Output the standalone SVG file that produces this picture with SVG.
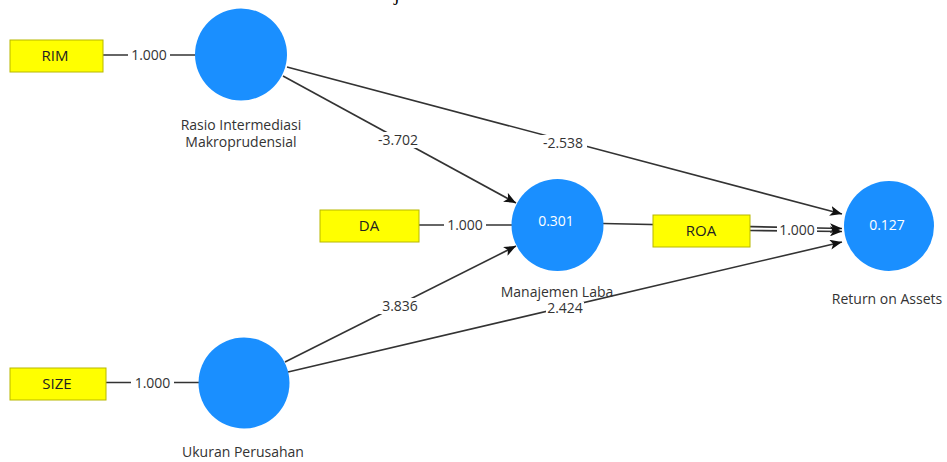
<svg xmlns="http://www.w3.org/2000/svg" width="947" height="462" viewBox="0 0 947 462">
<defs>
<marker id="arr" viewBox="0 0 12 10" refX="12" refY="5" markerWidth="12" markerHeight="10" markerUnits="userSpaceOnUse" orient="auto">
<path d="M0,0 L12,5 L0,10 L3,5 z" fill="#111"/>
</marker>
<style>
.ln{stroke:#333;stroke-width:1.6;fill:none}
.lv{fill:#1a8fff}
.ind{fill:#ffff00;stroke:#b8b800;stroke-width:1}
.t{font-family:"Open Sans","Liberation Sans",sans-serif;font-size:14px;fill:#333;text-anchor:middle}
.n{font-family:"Open Sans","Liberation Sans",sans-serif;font-size:14px;fill:#333;text-anchor:middle}
.bt{font-family:"Open Sans","Liberation Sans",sans-serif;font-size:15px;fill:#222;text-anchor:middle}
.wt{font-family:"Open Sans","Liberation Sans",sans-serif;font-size:14px;fill:#fff;text-anchor:middle}
.bg{fill:#fff}
</style>
</defs>
<rect width="947" height="462" fill="#fff"/>
<text x="394" y="0" font-family="Liberation Serif,serif" font-size="20" fill="#000">j</text>
<g id="connectors">
<line class="ln" x1="103" y1="55" x2="195" y2="55"/>
<line class="ln" x1="106" y1="382.5" x2="199" y2="382.5"/>
<line class="ln" x1="419" y1="225" x2="512" y2="225"/>
<line class="ln" x1="283" y1="76" x2="516" y2="203" marker-end="url(#arr)"/>
<line class="ln" x1="287" y1="67" x2="842" y2="214" marker-end="url(#arr)"/>
<line class="ln" x1="285" y1="362" x2="516" y2="246" marker-end="url(#arr)"/>
<line class="ln" x1="288" y1="372" x2="842" y2="242" marker-end="url(#arr)"/>
<line class="ln" x1="603" y1="223.5" x2="842" y2="228.5" marker-end="url(#arr)"/>
<line class="ln" x1="750" y1="230.5" x2="842" y2="231.5" marker-end="url(#arr)"/>
<rect class="bg" x="128" y="47" width="42" height="16"/>
<text class="n" x="149" y="60">1.000</text>
<rect class="bg" x="131" y="375" width="43" height="16"/>
<text class="n" x="152.5" y="388">1.000</text>
<rect class="bg" x="444" y="217" width="42" height="16"/>
<text class="n" x="465" y="230">1.000</text>
<rect class="bg" x="777" y="222" width="40" height="16"/>
<text class="n" x="797" y="235">1.000</text>
<rect class="bg" x="374" y="132" width="48" height="16"/>
<text class="n" x="398" y="145">-3.702</text>
<rect class="bg" x="539" y="135" width="48" height="16"/>
<text class="n" x="563" y="148">-2.538</text>
<rect class="bg" x="379" y="298" width="42" height="16"/>
<text class="n" x="400" y="311">3.836</text>
<rect class="bg" x="546" y="302" width="38" height="14"/>
<text class="n" x="565" y="313">2.424</text>
</g>
<g id="RIM"><rect class="ind" x="10" y="40" width="93" height="32"/><text class="bt" x="55" y="61">RIM</text></g>
<g id="DA"><rect class="ind" x="320" y="210" width="99" height="32"/><text class="bt" x="369" y="231">DA</text></g>
<g id="ROA"><rect class="ind" x="653" y="215" width="97" height="32"/><text class="bt" x="701" y="236">ROA</text></g>
<g id="SIZE"><rect class="ind" x="10" y="368" width="96" height="32"/><text class="bt" x="57" y="389">SIZE</text></g>
<g id="rasio"><circle class="lv" cx="241" cy="54.5" r="46"/><text class="t" x="241" y="130">Rasio Intermediasi</text><text class="t" x="241" y="147">Makroprudensial</text></g>
<g id="manajemen"><circle class="lv" cx="557.5" cy="225" r="46"/><text class="wt" x="556" y="226">0.301</text><text class="t" x="557" y="297">Manajemen Laba</text></g>
<g id="return"><circle class="lv" cx="889" cy="226" r="45"/><text class="wt" x="887" y="230">0.127</text><text class="t" x="887" y="304">Return on Assets</text></g>
<g id="ukuran"><circle class="lv" cx="244" cy="383" r="45.5"/><text class="t" x="243" y="457">Ukuran Perusahan</text></g>
</svg>
